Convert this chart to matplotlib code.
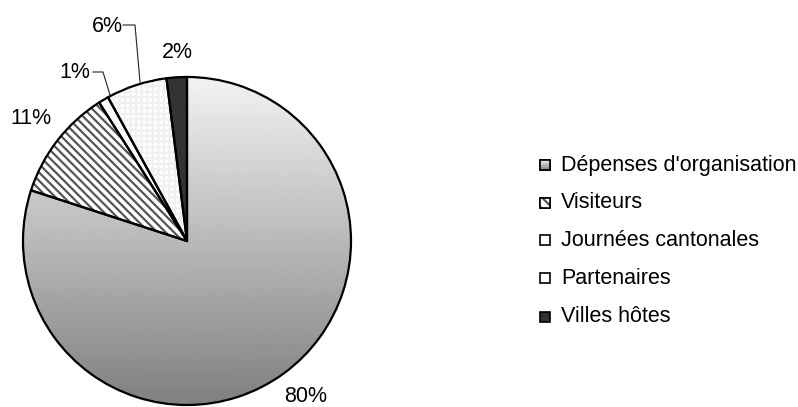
import matplotlib
matplotlib.use("Agg")
import matplotlib.pyplot as plt
import numpy as np
from matplotlib.patches import Rectangle

plt.rcParams['font.family'] = ['Liberation Sans', 'DejaVu Sans']
plt.rcParams['hatch.linewidth'] = 1.6

categories = ["Dépenses d'organisation", "Visiteurs", "Journées cantonales",
              "Partenaires", "Villes hôtes"]
shares = [80, 11, 1, 6, 2]
labels = ["80%", "11%", "1%", "6%", "2%"]

fig = plt.figure(figsize=(7.98, 4.07), dpi=100)
ax = fig.add_axes([0, 0, 1, 1])

cx, cy, r = 187, 166, 164

# fills first, outlines drawn on top
fills, _ = ax.pie(shares, startangle=90, counterclock=False, center=(cx, cy),
                  radius=r, frame=True,
                  colors=['none', 'white', '#fafafa', 'white', '#333333'],
                  wedgeprops=dict(linewidth=0))

fills[1].set_hatch('\\\\\\\\')
fills[1].set_edgecolor('#555555')
fills[3].set_hatch('+++')
fills[3].set_edgecolor('#f0f0f0')

grad = np.linspace(0.95, 0.5, 256).reshape(-1, 1)
img = ax.imshow(grad, cmap='gray', vmin=0, vmax=1, aspect='auto',
                extent=(cx - r, cx + r, cy - r, cy + r), origin='upper', zorder=0.5)
img.set_clip_path(fills[0])

outlines, _ = ax.pie(shares, startangle=90, counterclock=False, center=(cx, cy),
                     radius=r, frame=True, colors=['none'] * 5,
                     wedgeprops=dict(linewidth=1.6, edgecolor='black'))

# percentage labels and leader lines
fs = 15.5
ax.text(306, 11, labels[0], fontsize=fs, ha='center', va='center')
ax.text(31, 289, labels[1], fontsize=fs, ha='center', va='center')
ax.text(75, 335, labels[2], fontsize=fs, ha='center', va='center')
ax.text(107, 381, labels[3], fontsize=fs, ha='center', va='center')
ax.text(177, 354, labels[4], fontsize=fs, ha='center', va='center')
ax.plot([93, 103, 110], [335, 335, 312], color='#222222', lw=0.8)
ax.plot([123, 135, 140], [382, 382, 325], color='#222222', lw=0.8)

# legend
ly = [242, 204, 167, 129, 90]
sq = 10
for i, (name, y) in enumerate(zip(categories, ly)):
    box = Rectangle((540, y - sq / 2), sq, sq, facecolor='white',
                    edgecolor='black', lw=1.2, zorder=3)
    ax.add_patch(box)
    if i == 0:
        g = ax.imshow(grad, cmap='gray', vmin=0, vmax=1, aspect='auto',
                      extent=(540, 540 + sq, y - sq / 2, y + sq / 2), zorder=3.5)
        g.set_clip_path(box)
        ax.add_patch(Rectangle((540, y - sq / 2), sq, sq, facecolor='none',
                               edgecolor='black', lw=1.2, zorder=4))
    elif i == 1:
        ax.add_patch(Rectangle((540, y - sq / 2), sq, sq, facecolor='white',
                               edgecolor='#555555', hatch='\\\\\\', lw=0, zorder=3.5))
        ax.add_patch(Rectangle((540, y - sq / 2), sq, sq, facecolor='none',
                               edgecolor='black', lw=1.2, zorder=4))
    elif i == 4:
        box.set_facecolor('#333333')
    ax.text(561, y, name, fontsize=15.5, ha='left', va='center')

ax.set_xlim(0, 798)
ax.set_ylim(0, 407)
ax.set_aspect('equal')
ax.axis('off')
fig.savefig("out.png", dpi=100)
